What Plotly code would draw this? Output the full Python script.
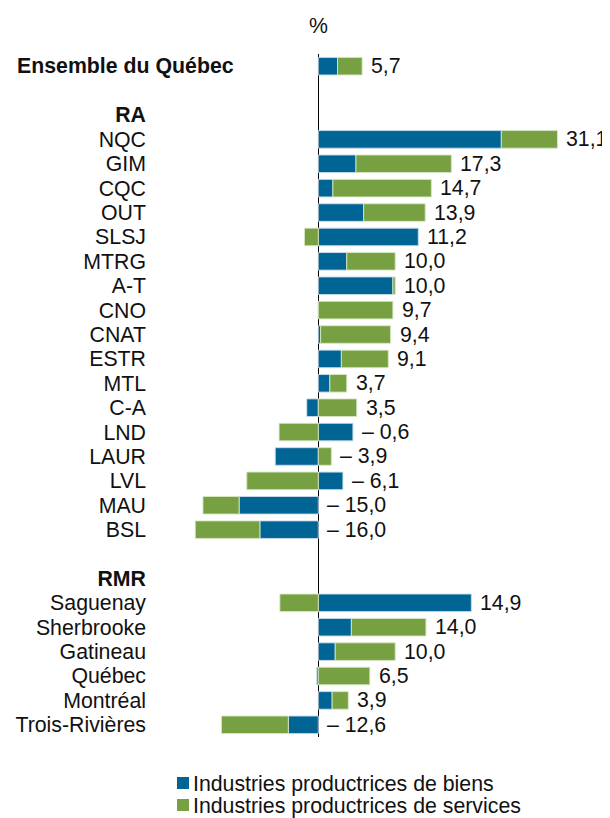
import plotly.graph_objects as go

# ---------------- data ----------------
quebec_label = "Ensemble du Québec"
quebec_goods = 2.5
quebec_services = 3.2
quebec_total = 5.7

ra_header = "RA"
ra_regions = ["NQC", "GIM", "CQC", "OUT", "SLSJ", "MTRG", "A-T", "CNO", "CNAT",
              "ESTR", "MTL", "C-A", "LND", "LAUR", "LVL", "MAU", "BSL"]
ra_goods = [23.8, 4.9, 1.9, 5.9, 13.0, 3.7, 9.7, 0.0, 0.3,
            3.0, 1.5, -1.5, 4.5, -5.6, 3.2, -10.3, -7.6]
ra_services = [7.3, 12.4, 12.8, 8.0, -1.8, 6.3, 0.3, 9.7, 9.1,
               6.1, 2.2, 5.0, -5.1, 1.7, -9.3, -4.7, -8.4]
ra_totals = [31.1, 17.3, 14.7, 13.9, 11.2, 10.0, 10.0, 9.7, 9.4,
             9.1, 3.7, 3.5, -0.6, -3.9, -6.1, -15.0, -16.0]

rmr_header = "RMR"
rmr_regions = ["Saguenay", "Sherbrooke", "Gatineau", "Québec", "Montréal", "Trois-Rivières"]
rmr_goods = [19.9, 4.3, 2.2, -0.2, 1.8, -3.9]
rmr_services = [-5.0, 9.7, 7.8, 6.7, 2.1, -8.7]
rmr_totals = [14.9, 14.0, 10.0, 6.5, 3.9, -12.6]

series_names = ["Industries productrices de biens", "Industries productrices de services"]
axis_unit = "%"

# ---------------- styling ----------------
BLUE = "#006494"
GREEN = "#77A043"
FONT = "Liberation Sans, Arial, sans-serif"
FS = 21.3
TXT = "#111111"

OFF = 8  # page body margin: figure is drawn 8px from the window's top-left
W, H = 610, 818
L_MARGIN, R_MARGIN, T_MARGIN, B_MARGIN = 139, 5, 46, 89
PLOT_W = W - L_MARGIN - R_MARGIN
PLOT_H = H - T_MARGIN - B_MARGIN

# ---------------- build rows ----------------
rows = []  # (label, goods, services, total, kind)
rows.append((quebec_label, quebec_goods, quebec_services, quebec_total, "total"))
rows.append(("", None, None, None, "blank"))
rows.append((ra_header, None, None, None, "header"))
for r, g, s, t in zip(ra_regions, ra_goods, ra_services, ra_totals):
    rows.append((r, g, s, t, "item"))
rows.append(("", None, None, None, "blank"))
rows.append((rmr_header, None, None, None, "header"))
for r, g, s, t in zip(rmr_regions, rmr_goods, rmr_services, rmr_totals):
    rows.append((r, g, s, t, "item"))

bar_y = [i for i, row in enumerate(rows) if row[1] is not None]
goods_x = [rows[i][1] for i in bar_y]
services_x = [rows[i][2] for i in bar_y]

tickvals = []
ticktext = []
for i, (lab, g, s, t, kind) in enumerate(rows):
    if kind == "item":
        tickvals.append(i)
        ticktext.append(lab)
    elif kind == "header":
        tickvals.append(i)
        ticktext.append("<b>" + lab + "</b>")


def fmt(v):
    txt = f"{abs(v):.1f}".replace(".", ",")
    return ("– " + txt) if v < 0 else txt


fig = go.Figure()
fig.add_trace(go.Bar(
    y=bar_y, x=goods_x, orientation="h", name=series_names[0],
    marker=dict(color=BLUE, line=dict(color="rgba(200,220,235,0.9)", width=1)),
    hoverinfo="skip",
))
fig.add_trace(go.Bar(
    y=bar_y, x=services_x, orientation="h", name=series_names[1],
    marker=dict(color=GREEN, line=dict(color="rgba(215,232,195,0.9)", width=1)),
    hoverinfo="skip",
))


def px_to_paper_x(px):
    # px: window pixel
    return (px - OFF - L_MARGIN) / PLOT_W


def px_to_paper_y(py):
    return (H - B_MARGIN - (py - OFF)) / PLOT_H


annotations = []
for i in bar_y:
    lab, g, s, t, kind = rows[i]
    pos_end = max(g, 0) + max(s, 0)
    annotations.append(dict(
        x=pos_end, y=i, xref="x", yref="y", text=fmt(t), showarrow=False,
        xanchor="left", yanchor="middle", xshift=7,
        font=dict(family=FONT, size=FS, color=TXT),
    ))

# Ensemble du Québec label (left aligned, bold)
annotations.append(dict(
    x=px_to_paper_x(15), y=0, xref="paper", yref="y",
    text="<b>" + quebec_label + "</b>", showarrow=False,
    xanchor="left", yanchor="middle",
    font=dict(family=FONT, size=FS, color=TXT),
))
# unit label
annotations.append(dict(
    x=0, y=px_to_paper_y(26), xref="x", yref="paper", text=axis_unit, showarrow=False,
    xanchor="center", yanchor="middle",
    font=dict(family=FONT, size=FS, color=TXT),
))

# manual legend (compact, like the reference)
shapes = []
legend_colors = [BLUE, GREEN]
legend_centers = [783, 805]
for name, col, cy in zip(series_names, legend_colors, legend_centers):
    shapes.append(dict(
        type="rect", xref="paper", yref="paper",
        x0=px_to_paper_x(177), x1=px_to_paper_x(189),
        y0=px_to_paper_y(cy + 6), y1=px_to_paper_y(cy - 6),
        fillcolor=col, line=dict(width=0),
    ))
    annotations.append(dict(
        x=px_to_paper_x(191), y=px_to_paper_y(cy + 1), xref="paper", yref="paper",
        text=name, showarrow=False, xanchor="left", yanchor="middle",
        font=dict(family=FONT, size=FS, color=TXT),
    ))

zero_px = 318.3 - OFF
px_per_unit = 7.69
x_left = -(zero_px - L_MARGIN) / px_per_unit
x_right = (W - R_MARGIN - zero_px) / px_per_unit

fig.update_layout(
    width=W, height=H,
    margin=dict(l=L_MARGIN, r=R_MARGIN, t=T_MARGIN, b=B_MARGIN, pad=0, autoexpand=False),
    paper_bgcolor="white", plot_bgcolor="white",
    barmode="relative", bargap=0.28,
    font=dict(family=FONT, size=FS, color=TXT),
    xaxis=dict(range=[x_left, x_right], showgrid=False, showticklabels=False,
               ticks="", zeroline=True, zerolinecolor="black", zerolinewidth=1.3,
               showline=False, fixedrange=True, automargin=False),
    yaxis=dict(range=[len(rows) - 0.5, -0.5], tickmode="array",
               tickvals=tickvals, ticktext=ticktext, showgrid=False,
               zeroline=False, ticks="", showline=False, automargin=False,
               tickfont=dict(family=FONT, size=FS, color=TXT),
               fixedrange=True),
    showlegend=False,
    shapes=shapes,
    annotations=annotations,
)

fig.write_html("out.html")
